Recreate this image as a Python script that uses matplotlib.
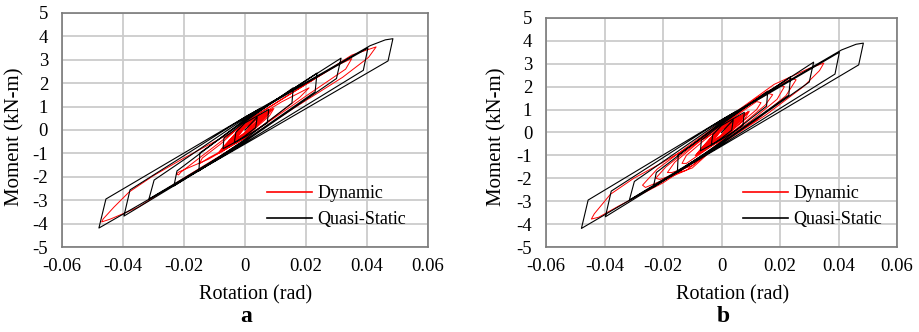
import matplotlib.pyplot as plt

plt.rcParams['font.family'] = ['Liberation Serif', 'DejaVu Serif']

# quasi-static test (same record in both panels): rotation (rad), moment (kN-m)
qs_rot = [0, 0.004, 0.0035, 0, -0.0035, -0.003, 0,
          0.0078, 0.0073, 0, -0.0072, -0.0069, 0,
          0.0158, 0.0154, 0, -0.0151, -0.0148, 0,
          0.0236, 0.023, 0, -0.0233, -0.0223, 0,
          0.0315, 0.030, 0, -0.0315, -0.0298, 0,
          0.0403, 0.0388, 0, -0.0397, -0.0377, 0,
          0.041, 0.046, 0.0485, 0.0469, 0, -0.0479, -0.0456, 0, 0.005]
qs_mom = [0, 0.55, 0.1, -0.25, -0.55, -0.1, 0.3,
          0.88, 0.3, -0.3, -0.8, -0.34, 0.35,
          1.8, 1.15, -0.4, -1.75, -0.98, 0.4,
          2.43, 1.63, -0.45, -2.39, -1.75, 0.45,
          3.07, 2.2, -0.5, -2.95, -2.14, 0.5,
          3.5, 2.55, -0.55, -3.68, -2.56, 0.55,
          3.6, 3.85, 3.9, 2.95, -0.6, -4.19, -2.95, 0.55, 0.92]

# small cycles near the origin (both dynamic records start with these)
small_rot = [0, 0.003, 0, -0.003, 0, 0.005, 0, -0.005, 0, 0.007, 0, -0.0065, 0,
             0.0085, 0.007, 0, -0.008, -0.006, 0, 0.009, 0, -0.0075, 0,
             0.006, 0, -0.006, 0, 0.008, 0, -0.0085, 0, 0.0095, 0.008, 0,
             -0.009, -0.007, 0, 0.0075, 0, -0.007, 0, 0.009, 0, -0.0082, 0,
             0.0065, 0, -0.0088, 0, 0.0088, 0, -0.0078, 0]
small_mom = [0, 0.35, -0.1, -0.4, 0.1, 0.55, -0.15, -0.65, 0.15, 0.72, -0.2, -0.8, 0.2,
             0.82, 0.55, -0.25, -0.95, -0.6, 0.22, 0.88, -0.28, -0.92, 0.25,
             0.62, -0.2, -0.72, 0.18, 0.8, -0.22, -0.98, 0.3, 0.92, 0.6, -0.32,
             -1.02, -0.7, 0.28, 0.76, -0.18, -0.85, 0.12, 0.9, -0.25, -0.95, 0.2,
             0.68, -0.12, -1.0, 0.32, 0.86, -0.3, -0.9, 0.25]

# dynamic test, panel a
dyn_a_rot = small_rot + [
    0.012, 0.021, 0.018, 0.01, 0, -0.012, -0.0215, -0.0225, -0.0218, -0.021,
    -0.016, -0.01, 0, 0.015, 0.03, 0.035, 0.033, 0.02, 0, -0.012, -0.015, -0.014,
    -0.008, 0, 0.02, 0.035, 0.043, 0.0405, 0.032, 0.015, 0, -0.02, -0.035, -0.044,
    -0.047, -0.0465, -0.043, -0.038, -0.03, -0.02, -0.01, 0, 0.004]
dyn_a_mom = small_mom + [
    1.2, 1.8, 1.4, 0.6, -0.35, -1.25, -1.78, -1.88, -1.92, -1.8,
    -1.3, -0.7, 0.3, 1.55, 2.75, 3.05, 2.6, 1.45, -0.35, -1.2, -1.45, -1.2,
    -0.6, 0.35, 1.95, 3.2, 3.55, 3.1, 2.25, 0.85, -0.45, -2.05, -3.3, -3.8,
    -3.93, -3.8, -3.3, -2.65, -1.95, -1.2, -0.5, 0.2, 0.5]

# dynamic test, panel b
dyn_b_rot = small_rot + [
    0.008, 0.012, 0.0135, 0.012, 0.006, 0, -0.008, -0.012, -0.0135, -0.012, -0.006,
    0, 0.01, 0.016, 0.0175, 0.015, 0.008, 0, -0.01, -0.017, -0.0185, -0.016, -0.008,
    0, 0.012, 0.02, 0.0215, 0.019, 0.01, 0, -0.01, -0.021, -0.0225, -0.019, -0.01,
    0, 0.015, 0.024, 0.0255, 0.022, 0.012, 0, -0.012, -0.026, -0.027, -0.022, -0.012,
    0, 0.018, 0.03, 0.035, 0.0335, 0.028, 0.015, 0, -0.02, -0.035, -0.042, -0.0445,
    -0.0435, -0.038, -0.03, -0.02, -0.01, 0]
dyn_b_mom = small_mom + [
    1.0, 1.35, 1.3, 1.0, 0.35, -0.3, -1.0, -1.35, -1.35, -1.0, -0.35,
    0.3, 1.25, 1.7, 1.65, 1.2, 0.45, -0.35, -1.45, -1.75, -1.75, -1.3, -0.45,
    0.35, 1.5, 2.05, 2.0, 1.45, 0.5, -0.4, -1.55, -2.05, -2.0, -1.5, -0.6,
    0.4, 1.75, 2.35, 2.3, 1.6, 0.55, -0.45, -1.65, -2.4, -2.3, -1.6, -0.65,
    0.45, 2.1, 2.8, 3.03, 2.7, 2.0, 0.75, -0.5, -2.2, -3.2, -3.7, -3.78,
    -3.55, -2.7, -2.0, -1.3, -0.55, 0.15]

x_ticks = [-0.06, -0.04, -0.02, 0, 0.02, 0.04, 0.06]
x_labels = ['-0.06', '-0.04', '-0.02', '0', '0.02', '0.04', '0.06']
y_ticks = [-5, -4, -3, -2, -1, 0, 1, 2, 3, 4, 5]
y_labels = [str(v) for v in y_ticks]

fig = plt.figure(figsize=(9.2, 3.32), dpi=100)
ax_a = fig.add_axes([0.0674, 0.256, 0.3978, 0.705])
ax_b = fig.add_axes([0.5935, 0.256, 0.3815, 0.690])

panels = [(ax_a, dyn_a_rot, dyn_a_mom, 'a', 256, 15),
          (ax_b, dyn_b_rot, dyn_b_mom, 'b', 733, 497)]

for ax, d_rot, d_mom, tag, xlab_px, ylab_px in panels:
    ax.plot(d_rot, d_mom, color='#ff0000', lw=0.7, label='Dynamic', zorder=3)
    ax.plot(qs_rot, qs_mom, color='black', lw=0.8, label='Quasi-Static', zorder=4)
    ax.set_xlim(-0.06, 0.06)
    ax.set_ylim(-5, 5)
    ax.set_xticks(x_ticks)
    ax.set_xticklabels(x_labels)
    ax.set_yticks(y_ticks)
    ax.set_yticklabels(y_labels)
    ax.tick_params(length=0, labelsize=13.5)
    ax.tick_params(axis='y', pad=10)
    ax.tick_params(axis='x', pad=8)
    ax.grid(True, color='#cccccc', lw=1.3)
    ax.set_axisbelow(True)
    for sp in ax.spines.values():
        sp.set_color('#7a7a7a')
        sp.set_linewidth(1.2)
    leg = ax.legend(loc='lower left', bbox_to_anchor=(0.515, 0.012), frameon=False,
                    fontsize=13, handlelength=2.5, handletextpad=0.3, labelspacing=0.5)
    for h in leg.get_lines():
        h.set_linewidth(1.2)
    fig.text(xlab_px / 920, 1 - 295 / 332, 'Rotation (rad)', fontsize=14.5,
             ha='center', va='center')
    fig.text(ylab_px / 920, 1 - 137 / 332, 'Moment (kN-m)', fontsize=15,
             ha='center', va='center', rotation=90)
    fig.text((xlab_px - 10) / 920, 1 - 317 / 332, tag, fontsize=17,
             fontweight='bold', ha='center', va='center')

fig.savefig('out.png', dpi=100)
